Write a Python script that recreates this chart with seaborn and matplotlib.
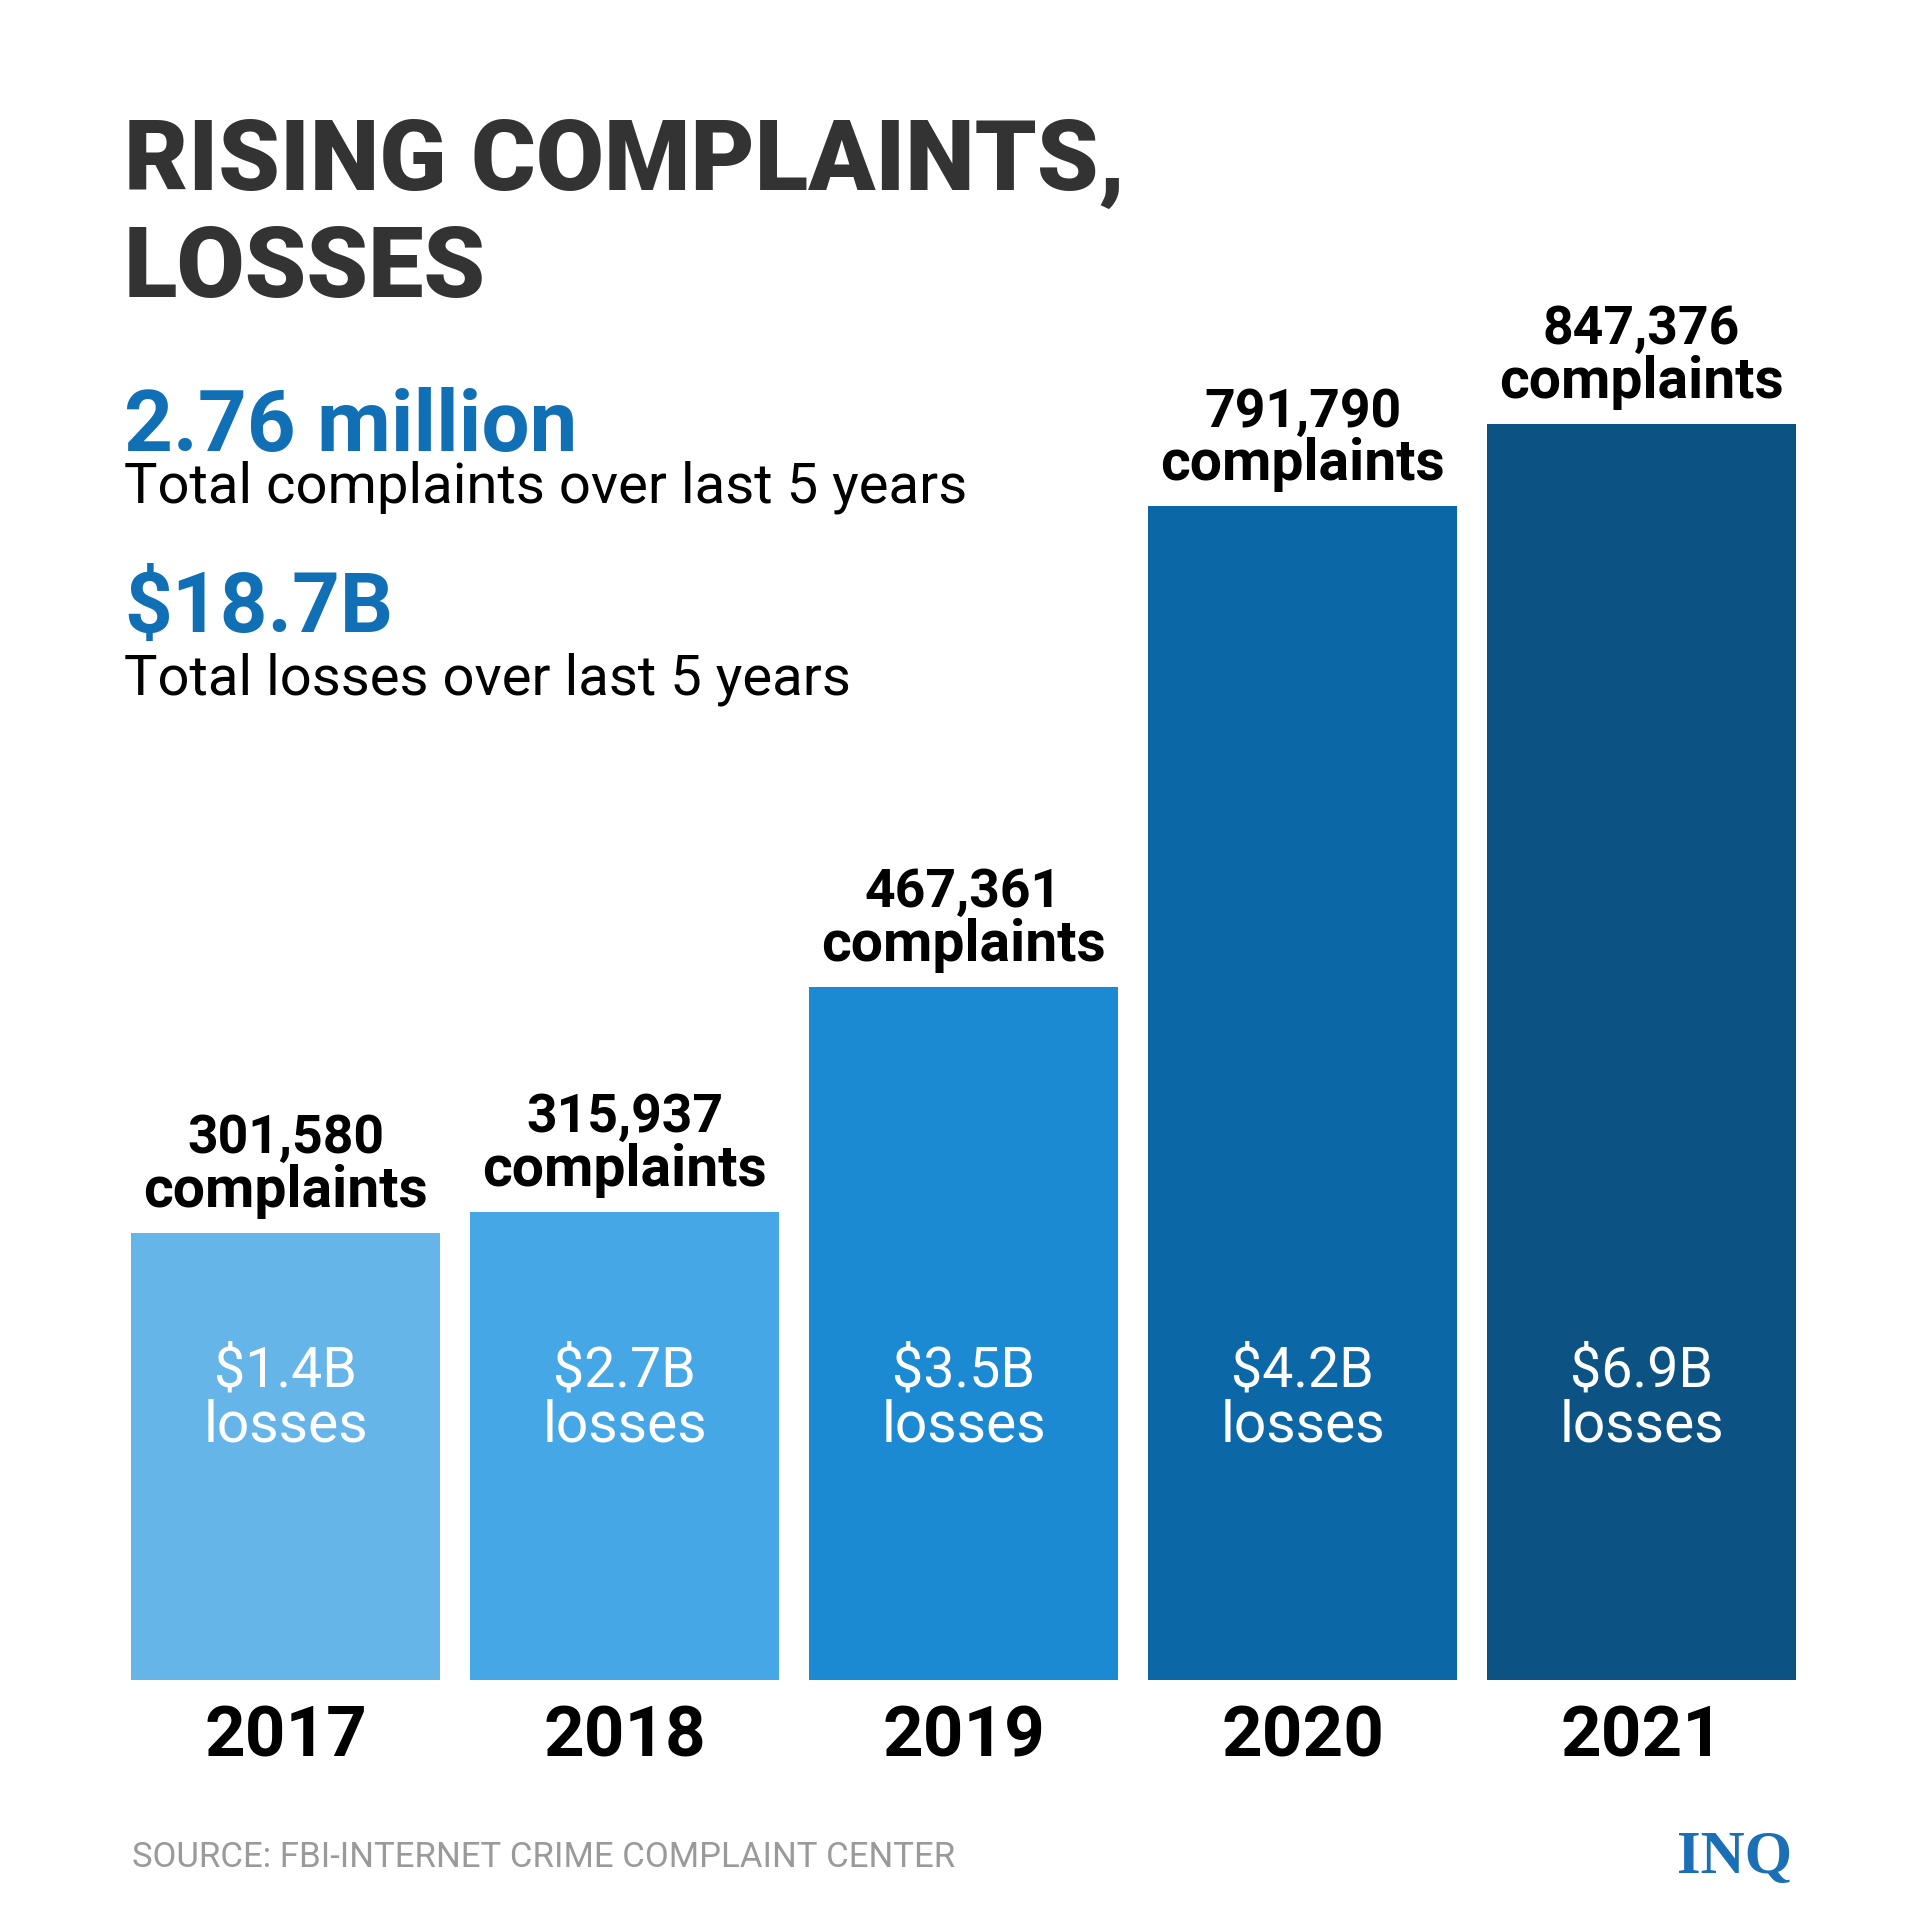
import matplotlib
matplotlib.use("Agg")
import matplotlib.pyplot as plt
import matplotlib.transforms as mtransforms
import seaborn as sns
import pandas as pd

# ---- data ----
years = ["2017", "2018", "2019", "2020", "2021"]
complaints = [301580, 315937, 467361, 791790, 847376]
complaint_labels = ["301,580", "315,937", "467,361", "791,790", "847,376"]
loss_labels = ["$1.4B", "$2.7B", "$3.5B", "$4.2B", "$6.9B"]
bar_colors = ["#66B5E9", "#46A7E6", "#1B8AD2", "#0B67A5", "#0C5282"]

title_lines = ["RISING COMPLAINTS,", "LOSSES"]
total_complaints = "2.76 million"
total_complaints_note = "Total complaints over last 5 years"
total_losses = "$18.7B"
total_losses_note = "Total losses over last 5 years"
source_text = "SOURCE: FBI-INTERNET CRIME COMPLAINT CENTER"
logo_text = "INQ"

df = pd.DataFrame({"year": years, "complaints": complaints})

sns.set_theme(style="white")
plt.rcParams["font.family"] = ["Roboto", "DejaVu Sans"]

W = H = 1920
fig = plt.figure(figsize=(19.2, 19.2), dpi=100)
fig.patch.set_facecolor("white")

def fy(px):
    return 1 - px / H

ax_left, ax_right = 116 / W, 1811 / W
ax_bottom, ax_top = fy(1680), fy(424)
ax = fig.add_axes([ax_left, ax_bottom, ax_right - ax_left, ax_top - ax_bottom])

sns.barplot(data=df, x="year", y="complaints", hue="year", palette=bar_colors,
            saturation=1, width=0.911, legend=False, ax=ax, linewidth=0)
ax.set_xlim(-0.5, 4.5)
ax.set_ylim(0, max(complaints))
for s in ax.spines.values():
    s.set_visible(False)
ax.set_yticks([])
ax.set_xlabel("")
ax.set_ylabel("")
ax.set_facecolor("none")
ax.tick_params(axis="x", length=0, pad=17)
ax.set_xticks(range(len(years)))
ax.set_xticklabels(years, fontsize=51, fontweight="bold", color="black")

# complaint labels above bars
for i, (v, lab) in enumerate(zip(complaints, complaint_labels)):
    ax.annotate(lab, xy=(i, v), xytext=(0, 57.5), textcoords="offset points",
                ha="center", va="baseline", fontsize=38.5, fontweight="bold",
                color="black", annotation_clip=False)
    ax.annotate("complaints", xy=(i, v), xytext=(0, 18.7), textcoords="offset points",
                ha="center", va="baseline", fontsize=41, fontweight="bold",
                color="black", annotation_clip=False)

# loss labels inside bars
trans = mtransforms.blended_transform_factory(ax.transData, ax.transAxes)
for i, lab in enumerate(loss_labels):
    ax.text(i, (1680 - 1387) / 1256, lab, transform=trans, ha="center", va="baseline",
            fontsize=40, color="white")
    ax.text(i, (1680 - 1441) / 1256, "losses", transform=trans, ha="center", va="baseline",
            fontsize=41, color="white")

# header texts
x0 = 124 / W
fig.text(x0, fy(190), title_lines[0], fontsize=71, fontweight="black", color="#333333",
         va="baseline", ha="left")
fig.text(x0, fy(297), title_lines[1], fontsize=71, fontweight="black", color="#333333",
         va="baseline", ha="left")
fig.text(x0, fy(451), total_complaints, fontsize=61.5, fontweight="bold", color="#1170B5",
         va="baseline", ha="left")
fig.text(x0, fy(503), total_complaints_note, fontsize=40.5, color="black",
         va="baseline", ha="left")
fig.text(x0, fy(632), total_losses, fontsize=60, fontweight="bold", color="#1170B5",
         va="baseline", ha="left")
fig.text(x0, fy(694), total_losses_note, fontsize=40.5, color="black",
         va="baseline", ha="left")

# footer
fig.text(132 / W, fy(1867), source_text, fontsize=25, color="#9A9A9A",
         va="baseline", ha="left", family=["Roboto", "DejaVu Sans"])
fig.text(1792 / W, fy(1873), logo_text, fontsize=44, fontweight="bold", color="#1A6FB5",
         va="baseline", ha="right", family=["Liberation Serif", "DejaVu Serif"])

fig.savefig("out.png", dpi=100, facecolor="white")
